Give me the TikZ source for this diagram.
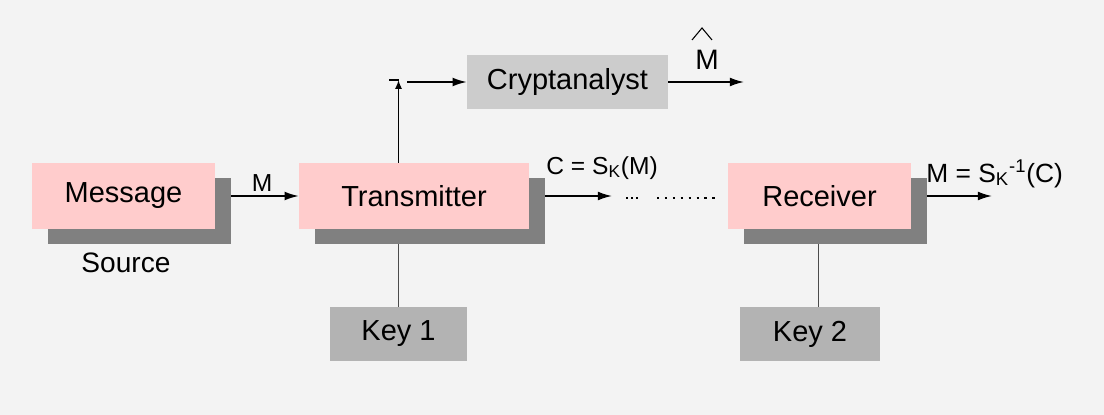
\documentclass[tikz,border=0pt]{standalone}
\usepackage{fontspec}
\setmainfont{Liberation Sans}
\usetikzlibrary{arrows.meta,shadows}
\definecolor{bggray}{HTML}{F3F3F3}
\definecolor{boxpink}{HTML}{FFCCCC}
\definecolor{shadegray}{HTML}{808080}
\definecolor{keygray}{HTML}{B3B3B3}
\definecolor{cagray}{HTML}{CCCCCC}
\tikzset{
    pinkbox/.style={fill=boxpink, inner sep=0pt, minimum height=1.32cm,
        font=\fontsize{16.5}{19}\selectfont,
        drop shadow={shadow xshift=0.32cm, shadow yshift=-0.3cm, fill=shadegray, opacity=1}},
    graybox/.style={fill=keygray, inner sep=0pt, minimum height=1.08cm,
        font=\fontsize{16.5}{19}\selectfont},
    arr/.style={-{Latex[length=8pt,width=5pt]}, line width=0.9pt},
    keyline/.style={line width=0.7pt, draw=black!70},
    lbl/.style={inner sep=0pt, font=\fontsize{14}{16}\selectfont}
}
\begin{document}
\begin{tikzpicture}[x=0.02cm, y=-0.02cm]
                \fill[bggray] (0,0) rectangle (1104,415);
                \node[pinkbox, minimum width=3.66cm] (msg) at (123.5,196) {Message};
                \node[pinkbox, minimum width=4.6cm] (trans) at (414,196) {Transmitter};
                \node[pinkbox, minimum width=3.66cm] (rcv) at (819.5,196) {Receiver};
                \node[graybox, fill=cagray, minimum width=4.02cm] (crypt) at (567.5,82) {Cryptanalyst};
                \node[graybox, minimum width=2.74cm] (key1) at (398.5,334) {Key 1};
                \node[graybox, minimum width=2.8cm] (key2) at (810,334) {Key 2};
                \node[font=\fontsize{16}{19}\selectfont] (src) at (126,263) {Source};
                \coordinate (tap) at (398.5,80);
                \coordinate (tapout) at (407,82);
                \coordinate (cend) at (612,196);
                \coordinate (dota) at (626,198);
                \coordinate (dotb) at (641,198);
                \coordinate (dotc) at (657,198);
                \coordinate (dotd) at (717,198);
                \coordinate (mout) at (992,196);
                \coordinate (hatend) at (744,82);
                \coordinate (tsb) at ([yshift=-0.3cm]trans.south);
                \coordinate (rsb) at ([yshift=-0.3cm]rcv.south);
                \draw[arr] ([xshift=0.32cm]msg.east) -- (trans.west);
                \node[lbl] (mlbl) at (262,183) {M};
                \draw[arr] ([xshift=0.32cm]trans.east) -- (cend);
                \node[lbl, anchor=base west] (clbl) at (546,174) {C = S\textsubscript{K}(M)};
                \draw[line width=1.3pt, dash pattern=on 1.3pt off 1.6pt] (dota) -- (dotb);
                \draw[line width=1.3pt, dash pattern=on 1.3pt off 3.2pt] (dotc) -- (dotd);
                \draw[arr] ([xshift=0.32cm]rcv.east) -- (mout);
                \node[lbl, anchor=base west, font=\fontsize{15}{17}\selectfont] (mrlbl) at (926,182) {M = S\textsubscript{K}\textsuperscript{-1}(C)};
                \draw[-{Latex[length=5pt,width=4pt]}, line width=0.9pt] (key1.north |- trans.north) -- (tap);
                \draw[line width=0.9pt] (tap) -- ++(-10,0);
                \draw[arr] (tapout) -- (crypt.west);
                \draw[arr] (crypt.east) -- (hatend);
                \node[lbl, font=\fontsize{16}{19}\selectfont] (mhat) at (707,60) {M};
                \draw[line width=0.6pt] ([shift={(-15,-10)}]mhat.north) -- ++(10,-12) -- ++(10,12);
                \draw[keyline] (key1.north) -- (key1.north |- tsb);
                \draw[keyline] (key2.north -| 818.6,0) -- (818.6,0 |- rsb);
            \end{tikzpicture}
\end{document}
